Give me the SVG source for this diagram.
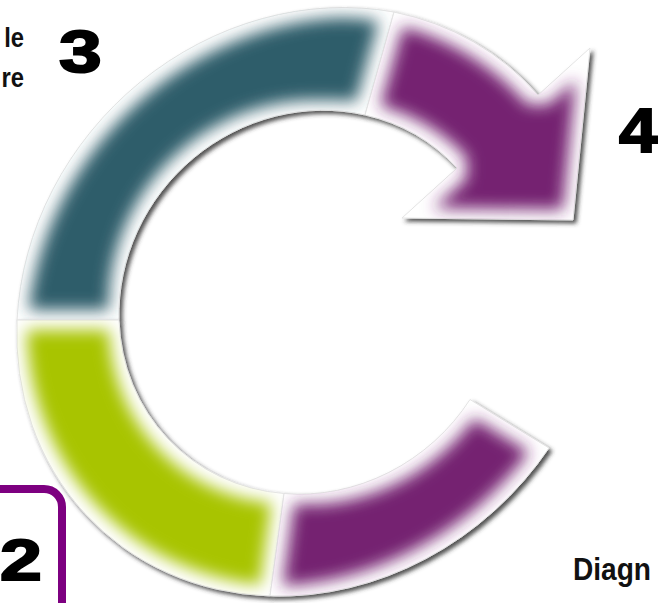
<svg xmlns="http://www.w3.org/2000/svg" width="658" height="603" viewBox="0 0 658 603">
<style>
.base{fill:#ffffff;stroke:#e4e4e4;stroke-width:1}
.num{font-family:"Liberation Sans",Arial,sans-serif;font-weight:bold;fill:#000;stroke:#000;stroke-width:2}
.lbl{font-family:"Liberation Sans",Arial,sans-serif;font-weight:bold;fill:#111}
</style>
<defs>
<filter id="shadow" x="-10%" y="-10%" width="125%" height="125%">
<feGaussianBlur in="SourceAlpha" stdDeviation="2.2"/>
<feOffset dx="3" dy="3" result="o"/>
<feFlood flood-color="#333" flood-opacity="0.85"/>
<feComposite in2="o" operator="in" result="s"/>
<feMerge><feMergeNode in="s"/><feMergeNode in="SourceGraphic"/></feMerge>
</filter>
<filter id="soft" x="-10%" y="-10%" width="120%" height="120%">
<feMorphology in="SourceGraphic" operator="erode" radius="10"/>
<feGaussianBlur stdDeviation="8"/>
</filter>
<path id="pTeal" d="M17,320 A310,278 -45 0 1 394,12 L365,115 A198,186 -45 0 0 119,320 Z"/>
<path id="pGreen" d="M17,320 A310,278 -45 0 0 270,596 L284,493.5 A198,186 -45 0 1 119,320 Z"/>
<path id="pPurpleB" d="M270,596 A310,278 -45 0 0 549,448 L470,399.5 A198,186 -45 0 1 284,493.5 Z"/>
<path id="pArrow" d="M394,12 A310,278 -45 0 1 538,95 L590,48 L573,220 L402,218 L457,168 A198,186 -45 0 0 365,115 Z"/>
<clipPath id="cTeal"><use href="#pTeal"/></clipPath>
<clipPath id="cGreen"><use href="#pGreen"/></clipPath>
<clipPath id="cPurpleB"><use href="#pPurpleB"/></clipPath>
<clipPath id="cArrow"><use href="#pArrow"/></clipPath>
</defs>
<rect width="658" height="603" fill="#fff"/>

<g id="seg-teal">
<g filter="url(#shadow)"><use href="#pTeal" class="base"/></g>
<g clip-path="url(#cTeal)"><use href="#pTeal" fill="#2f5d6a" filter="url(#soft)"/></g>
</g>
<g id="seg-green">
<g filter="url(#shadow)"><use href="#pGreen" class="base"/></g>
<g clip-path="url(#cGreen)"><use href="#pGreen" fill="#a8c400" filter="url(#soft)"/></g>
</g>
<g id="seg-purple-bottom">
<g filter="url(#shadow)"><use href="#pPurpleB" class="base"/></g>
<g clip-path="url(#cPurpleB)"><use href="#pPurpleB" fill="#752371" filter="url(#soft)"/></g>
</g>
<g id="seg-arrow">
<g filter="url(#shadow)"><use href="#pArrow" class="base"/></g>
<g clip-path="url(#cArrow)"><use href="#pArrow" fill="#752371" filter="url(#soft)"/></g>
</g>

<g id="label-left">
<text class="lbl" font-size="28" text-anchor="end" transform="translate(24,47) scale(0.85,1)">le</text>
<text class="lbl" font-size="28" text-anchor="end" transform="translate(24,87) scale(0.85,1)">re</text>
</g>
<g id="step3"><text class="num" font-size="60" transform="translate(59,72) scale(1.28,1)">3</text></g>
<g id="step4"><text class="num" font-size="63" transform="translate(619,152) scale(1.1,1)">4</text></g>
<g id="step2">
<rect x="-60" y="489" width="122" height="200" rx="18" fill="none" stroke="#7d0080" stroke-width="8"/>
<text class="num" font-size="57" transform="translate(0,580) scale(1.32,1)">2</text>
</g>
<g id="label-diag">
<text class="lbl" x="573" y="580" font-size="32" textLength="78" lengthAdjust="spacingAndGlyphs">Diagn</text>
</g>
</svg>
